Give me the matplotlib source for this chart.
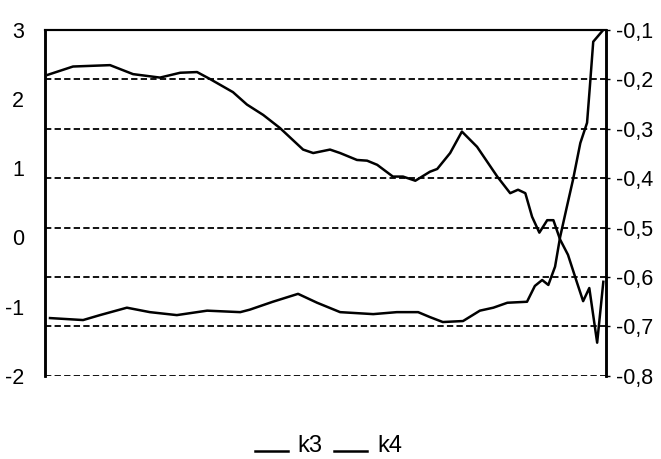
import matplotlib
matplotlib.use("Agg")
import matplotlib.pyplot as plt
from matplotlib.legend_handler import HandlerLine2D

plt.rcParams['font.family'] = ['Liberation Sans', 'DejaVu Sans']

# k3 (left axis)
k3_x = [0.5, 5.0, 11.6, 15.7, 20.5, 24.1, 27.1, 29.4, 33.5, 36.0, 38.9, 41.9, 46.0, 47.8,
        50.8, 52.6, 55.6, 57.4, 59.2, 62.0, 63.8, 66.0, 68.6, 69.9, 72.2, 74.3, 77.0,
        80.6, 82.9, 84.3, 85.6, 86.8, 88.1, 89.5, 90.6, 91.8, 93.2, 94.8, 95.9, 97.0,
        98.4, 99.5]
k3_y = [2.35, 2.47, 2.49, 2.36, 2.31, 2.38, 2.39, 2.29, 2.10, 1.92, 1.77, 1.58, 1.27, 1.22,
        1.27, 1.22, 1.12, 1.11, 1.05, 0.88, 0.88, 0.82, 0.95, 0.99, 1.22, 1.53, 1.31,
        0.88, 0.64, 0.69, 0.64, 0.30, 0.07, 0.25, 0.25, -0.03, -0.25, -0.65, -0.92, -0.73,
        -1.52, -0.64]

# k4 (right axis)
k4_x = [0.9, 6.8, 9.8, 14.6, 18.7, 23.5, 28.9, 34.8, 36.5, 40.6, 45.1, 48.5, 52.6, 58.5,
        62.7, 66.5, 68.6, 70.9, 74.5, 77.5, 79.9, 82.4, 85.9, 87.3, 88.6, 89.7, 90.9,
        91.8, 93.0, 94.1, 95.4, 96.6, 97.1, 97.7, 99.5]
k4_y = [-0.683, -0.687, -0.677, -0.662, -0.671, -0.677, -0.668, -0.671, -0.666, -0.650,
        -0.634, -0.652, -0.671, -0.675, -0.671, -0.671, -0.681, -0.691, -0.689, -0.668,
        -0.662, -0.652, -0.650, -0.618, -0.606, -0.616, -0.579, -0.519, -0.458, -0.403,
        -0.329, -0.288, -0.215, -0.124, -0.100]

left_ticks = [3, 2, 1, 0, -1, -2]
left_labels = ["3", "2", "1", "0", "-1", "-2"]
right_ticks = [-0.1, -0.2, -0.3, -0.4, -0.5, -0.6, -0.7, -0.8]
right_labels = ["-0,1", "-0,2", "-0,3", "-0,4", "-0,5", "-0,6", "-0,7", "-0,8"]
series_names = ["k3", "k4"]

fig = plt.figure(figsize=(6.61, 4.59), dpi=100)
ax = fig.add_axes([0.068, 0.181, 0.849, 0.754])
ax2 = ax.twinx()

ax.set_xlim(0, 100)
ax.set_ylim(-2, 3)
ax2.set_ylim(-0.8, -0.1)

for v in right_ticks[1:]:
    ax2.axhline(v, color='black', lw=1.3, linestyle=(0, (3.5, 1.8)), zorder=1)

l1, = ax.plot(k3_x, k3_y, color='black', lw=1.8, label=series_names[0])
l2, = ax2.plot(k4_x, k4_y, color='black', lw=1.8, label=series_names[1])

ax.set_xticks([])
ax.set_yticks(left_ticks)
ax.set_yticklabels(left_labels, fontsize=15.5)
ax2.set_yticks(right_ticks)
ax2.set_yticklabels(right_labels, fontsize=15.5)
ax.tick_params(axis='y', length=0, pad=15)
ax2.tick_params(axis='y', length=3, width=1, pad=4)

for a in (ax, ax2):
    a.spines['bottom'].set_visible(False)
    a.spines['top'].set_linewidth(1.5)
    a.spines['left'].set_linewidth(1.8)
    a.spines['right'].set_linewidth(1.8)
    a.patch.set_visible(False)


class LowLine(HandlerLine2D):
    def create_artists(self, legend, orig_handle, xdescent, ydescent, width, height,
                       fontsize, trans):
        arts = super().create_artists(legend, orig_handle, xdescent, ydescent, width,
                                      height, fontsize, trans)
        for a in arts:
            yd = a.get_ydata()
            a.set_ydata([y - height * 0.45 for y in yd])
        return arts


fig.legend(handles=[l1, l2], loc='center', bbox_to_anchor=(0.497, 0.028), ncol=2,
           frameon=False, fontsize=17, handlelength=1.4, handletextpad=0.4,
           columnspacing=0.5, handler_map={l1: LowLine(), l2: LowLine()})

fig.savefig("out.png", dpi=100)
